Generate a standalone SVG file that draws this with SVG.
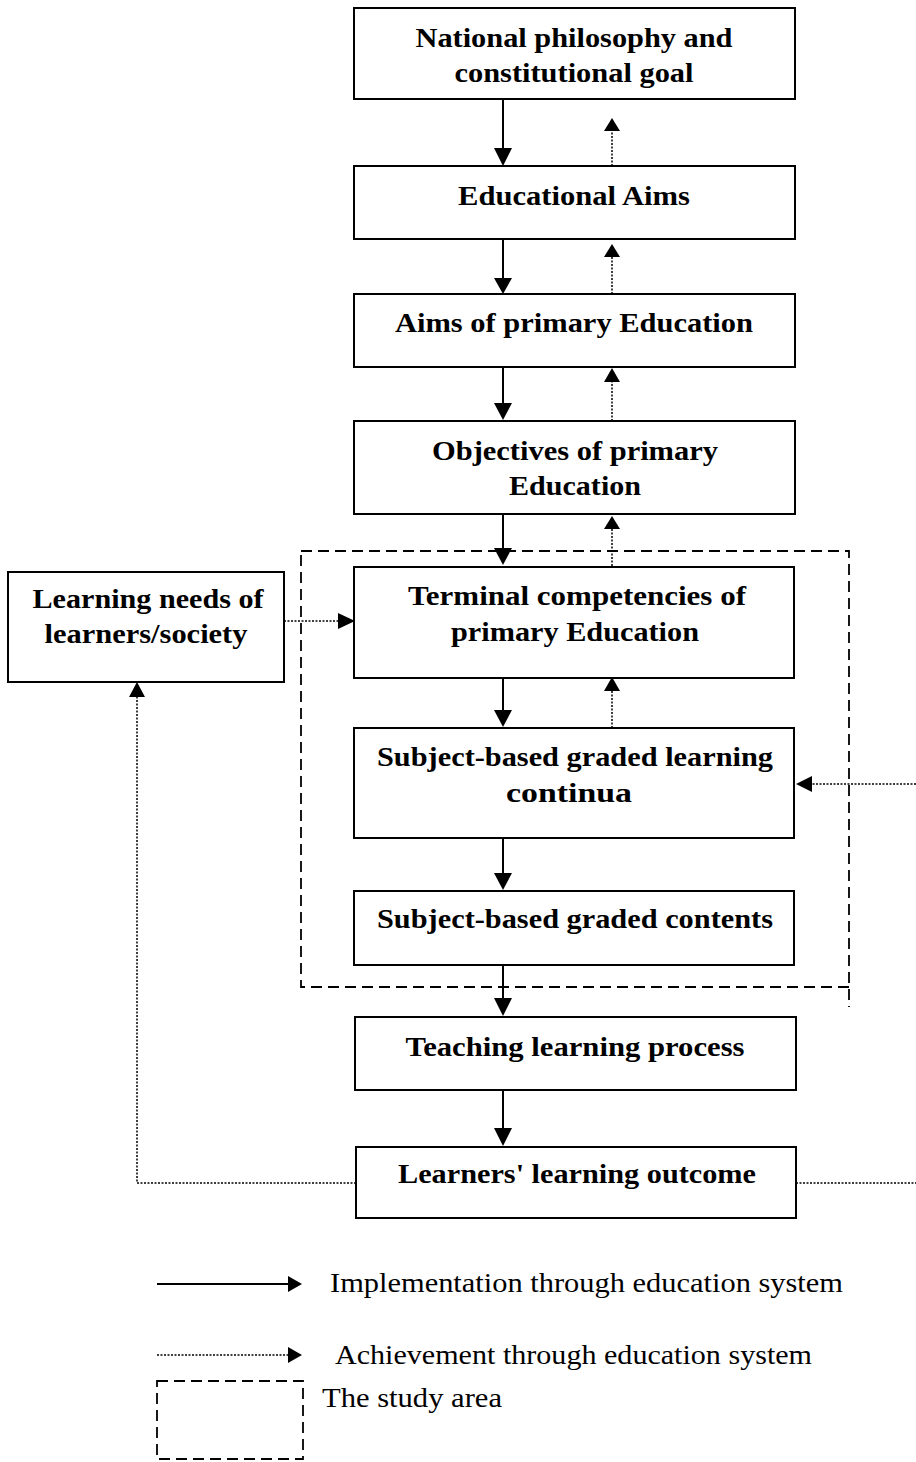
<svg xmlns="http://www.w3.org/2000/svg" width="916" height="1462" viewBox="0 0 916 1462">
<style>
.box{fill:#fff;stroke:#000;stroke-width:2}
.t{font-family:"Liberation Serif","Times New Roman",serif;font-weight:bold;font-size:27px;fill:#000;text-anchor:middle}
.lg{font-family:"Liberation Serif","Times New Roman",serif;font-size:27px;fill:#000}
.solid{stroke:#000;stroke-width:2;fill:none}
.dot{stroke:#000;stroke-width:1.5;stroke-dasharray:2 1.5;fill:none}
.dash{stroke:#000;stroke-width:1.8;stroke-dasharray:11 6;fill:none}
.ah{fill:#000}
</style>
<rect width="916" height="1462" fill="#fff"/>
<g id="study-area">
<path class="dash" d="M301,551 H849 V1007 M849,987 H301 V551"/>
</g>
<g id="connectors">
<line class="solid" x1="503" y1="99" x2="503" y2="150"/><polygon class="ah" points="494,148 512,148 503,166"/>
<line class="dot" x1="612" y1="166" x2="612" y2="130"/><polygon class="ah" points="604,131 620,131 612,118"/>
<line class="solid" x1="503" y1="239" x2="503" y2="280"/><polygon class="ah" points="494,278 512,278 503,294"/>
<line class="dot" x1="612" y1="294" x2="612" y2="256"/><polygon class="ah" points="604,257 620,257 612,244"/>
<line class="solid" x1="503" y1="367" x2="503" y2="405"/><polygon class="ah" points="494,403 512,403 503,420"/>
<line class="dot" x1="612" y1="421" x2="612" y2="381"/><polygon class="ah" points="604,382 620,382 612,368"/>
<line class="solid" x1="503" y1="514" x2="503" y2="550"/><polygon class="ah" points="494,548 512,548 503,565"/>
<line class="dot" x1="612" y1="566" x2="612" y2="528"/><polygon class="ah" points="604,529 620,529 612,516"/>
<line class="solid" x1="503" y1="678" x2="503" y2="712"/><polygon class="ah" points="494,710 512,710 503,727"/>
<line class="dot" x1="612" y1="728" x2="612" y2="690"/><polygon class="ah" points="604,691 620,691 612,677"/>
<line class="solid" x1="503" y1="838" x2="503" y2="875"/><polygon class="ah" points="494,873 512,873 503,890"/>
<line class="solid" x1="503" y1="965" x2="503" y2="1000"/><polygon class="ah" points="494,998 512,998 503,1016"/>
<line class="solid" x1="503" y1="1090" x2="503" y2="1130"/><polygon class="ah" points="494,1128 512,1128 503,1146"/>
<line class="dot" x1="284" y1="621" x2="340" y2="621"/><polygon class="ah" points="338,613 338,629 355,621"/>
<polyline class="dot" points="356,1183 137,1183 137,696"/><polygon class="ah" points="129,697 145,697 137,682"/>
<line class="dot" x1="796" y1="1183" x2="916" y2="1183"/>
<line class="dot" x1="916" y1="784" x2="811" y2="784"/><polygon class="ah" points="812,776 812,792 796,784"/>
</g>
<g id="n1"><rect class="box" x="354" y="8" width="441" height="91"/>
<text class="t" x="574" y="47" textLength="317" lengthAdjust="spacingAndGlyphs">National philosophy and</text>
<text class="t" x="574" y="82" textLength="239" lengthAdjust="spacingAndGlyphs">constitutional goal</text></g>
<g id="n2"><rect class="box" x="354" y="166" width="441" height="73"/>
<text class="t" x="574" y="205" textLength="232" lengthAdjust="spacingAndGlyphs">Educational Aims</text></g>
<g id="n3"><rect class="box" x="354" y="294" width="441" height="73"/>
<text class="t" x="574" y="332" textLength="358" lengthAdjust="spacingAndGlyphs">Aims of primary Education</text></g>
<g id="n4"><rect class="box" x="354" y="421" width="441" height="93"/>
<text class="t" x="575" y="460" textLength="286" lengthAdjust="spacingAndGlyphs">Objectives of primary</text>
<text class="t" x="575" y="495" textLength="132" lengthAdjust="spacingAndGlyphs">Education</text></g>
<g id="n5"><rect class="box" x="354" y="567" width="440" height="111"/>
<text class="t" x="577" y="605" textLength="338" lengthAdjust="spacingAndGlyphs">Terminal competencies of</text>
<text class="t" x="575" y="641" textLength="248" lengthAdjust="spacingAndGlyphs">primary Education</text></g>
<g id="n6"><rect class="box" x="354" y="728" width="440" height="110"/>
<text class="t" x="575" y="766" textLength="396" lengthAdjust="spacingAndGlyphs">Subject-based graded learning</text>
<text class="t" x="569" y="802" textLength="126" lengthAdjust="spacingAndGlyphs">continua</text></g>
<g id="n7"><rect class="box" x="354" y="891" width="440" height="74"/>
<text class="t" x="575" y="928" textLength="396" lengthAdjust="spacingAndGlyphs">Subject-based graded contents</text></g>
<g id="n8"><rect class="box" x="355" y="1017" width="441" height="73"/>
<text class="t" x="575" y="1056" textLength="339" lengthAdjust="spacingAndGlyphs">Teaching learning process</text></g>
<g id="n9"><rect class="box" x="356" y="1147" width="440" height="71"/>
<text class="t" x="577" y="1183" textLength="358" lengthAdjust="spacingAndGlyphs">Learners' learning outcome</text></g>
<g id="n10"><rect class="box" x="8" y="572" width="276" height="110"/>
<text class="t" x="148" y="608" textLength="231" lengthAdjust="spacingAndGlyphs">Learning needs of</text>
<text class="t" x="146" y="643" textLength="203" lengthAdjust="spacingAndGlyphs">learners/society</text></g>
<g id="legend">
<line class="solid" x1="157" y1="1284" x2="290" y2="1284"/><polygon class="ah" points="288,1276 288,1292 302,1284"/>
<text class="lg" x="330" y="1292" textLength="513" lengthAdjust="spacingAndGlyphs">Implementation through education system</text>
<line class="dot" x1="157" y1="1355" x2="290" y2="1355"/><polygon class="ah" points="288,1347 288,1363 302,1355"/>
<text class="lg" x="335" y="1364" textLength="477" lengthAdjust="spacingAndGlyphs">Achievement through education system</text>
<rect class="dash" x="157" y="1381" width="146" height="78"/>
<text class="lg" x="322" y="1407" textLength="180" lengthAdjust="spacingAndGlyphs">The study area</text>
</g>
</svg>
